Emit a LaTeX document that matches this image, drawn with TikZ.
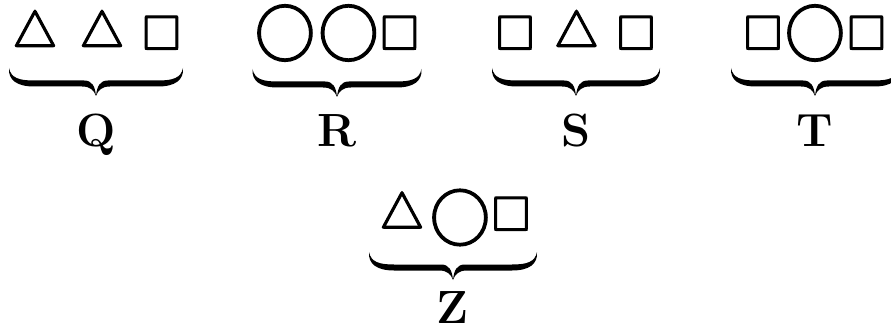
\documentclass[tikz,border=0pt]{standalone}
\usepackage{amssymb}
\usepackage{fontspec}
\newcommand\heavy[1]{\special{pdf:literal direct 2 Tr 0.22 w}#1\special{pdf:literal direct 0 Tr}}
\tikzset{
  sym/.style={inner sep=0pt, anchor=center},
  tri/.style={sym, scale=5.1},
  sq/.style={sym, scale=4.9},
  circ/.style={sym, scale=6.1},
  lbl/.style={inner sep=0pt, anchor=base, font=\fontsize{46.6}{50}\selectfont\bfseries},
  pics/ubrace/.style={code={
    \fill (-#1,28) .. controls (-#1+2,18) and (-#1+10,15.5) .. (-#1+25,15.5)
      -- (-12,15.5) .. controls (-4,15.5) and (-1,10) .. (0,0)
      .. controls (1,10) and (4,15.5) .. (12,15.5)
      -- (#1-25,15.5) .. controls (#1-10,15.5) and (#1-2,18) .. (#1,28)
      .. controls (#1+1,16) and (#1-8,9.5) .. (#1-25,9.5)
      -- (14,9.5) .. controls (6,9.5) and (2,6) .. (0,0)
      .. controls (-2,6) and (-6,9.5) .. (-14,9.5)
      -- (-#1+25,9.5) .. controls (-#1+8,9.5) and (-#1-1,16) .. (-#1,28) -- cycle;
  }}
}
\begin{document}
\begin{tikzpicture}[x=1pt,y=1pt]
\useasboundingbox (0,0) rectangle (891,335);
% Q
\node[tri] (q1) at (35,301) {\heavy{$\triangle$}};
\node[tri] (q2) at (102,301) {\heavy{$\triangle$}};
\node[sq] (q3) at (161.5,302) {\heavy{$\square$}};
\pic at (96,239) {ubrace=87};
\node[lbl] (q) at (96,188) {Q};
% R
\node[circ] (r1) at (285,302) {\heavy{$\bigcirc$}};
\node[circ] (r2) at (348.5,302) {\heavy{$\bigcirc$}};
\node[sq] (r3) at (399.5,302) {\heavy{$\square$}};
\pic at (337,238) {ubrace=84.5};
\node[lbl] (r) at (337,188) {R};
% S
\node[sq] (s1) at (515,302) {\heavy{$\square$}};
\node[tri] (s2) at (576.5,301) {\heavy{$\triangle$}};
\node[sq] (s3) at (636,302) {\heavy{$\square$}};
\pic at (576,239) {ubrace=84};
\node[lbl] (s) at (576,188) {S};
% T
\node[sq] (t1) at (763,302) {\heavy{$\square$}};
\node[circ] (t2) at (815,302) {\heavy{$\bigcirc$}};
\node[sq] (t3) at (866.5,302) {\heavy{$\square$}};
\pic at (815,239) {ubrace=84};
\node[lbl] (t) at (815,188) {T};
% Z
\node[tri] (z1) at (402,119.5) {\heavy{$\triangle$}};
\node[circ] (z2) at (460,117.5) {\heavy{$\bigcirc$}};
\node[sq] (z3) at (511,121) {\heavy{$\square$}};
\pic at (453,55) {ubrace=84};
\node[lbl] (z) at (453,12) {Z};
\end{tikzpicture}
\end{document}
